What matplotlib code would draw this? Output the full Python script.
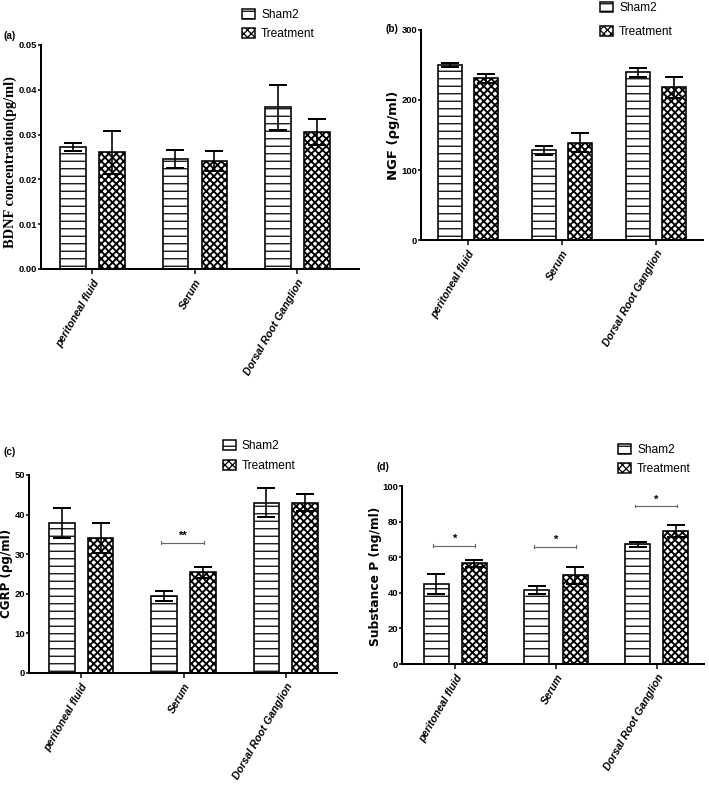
import numpy as np
import matplotlib
matplotlib.use("Agg")
import matplotlib.pyplot as plt
from matplotlib.patches import Patch

plt.rcParams['hatch.linewidth'] = 1.0

groups = ['peritoneal fluid', 'Serum', 'Dorsal Root Ganglion']
series = ['Sham2', 'Treatment']

# (a) BDNF
bdnf_sham = [0.0273, 0.0246, 0.0361]
bdnf_sham_err = [0.0009, 0.0020, 0.0050]
bdnf_treat = [0.0261, 0.0241, 0.0305]
bdnf_treat_err = [0.0048, 0.0022, 0.0029]

# (b) NGF
ngf_sham = [250, 128, 239.5]
ngf_sham_err = [3.5, 6, 6]
ngf_treat = [231, 139, 218.5]
ngf_treat_err = [6.5, 14, 15]

# (c) CGRP
cgrp_sham = [37.9, 19.5, 43.0]
cgrp_sham_err = [3.8, 1.2, 3.6]
cgrp_treat = [34.1, 25.4, 43.0]
cgrp_treat_err = [3.8, 1.3, 2.1]

# (d) Substance P
sp_sham = [44.9, 41.7, 67.3]
sp_sham_err = [5.6, 2.2, 1.5]
sp_treat = [56.6, 49.9, 74.6]
sp_treat_err = [1.9, 4.7, 3.3]

# significance marks: (group index, line y, label)
cgrp_sig = [(1, 32.9, '**')]
sp_sig = [(0, 66.5, '*'), (1, 66.0, '*'), (2, 88.8, '*')]

W, H, DPI = 709, 803, 90
fig = plt.figure(figsize=(W / DPI, H / DPI), dpi=DPI)

def px_axes(l, t, r, b):
    return fig.add_axes([l / W, 1 - b / H, (r - l) / W, (b - t) / H])

SANS = ['Liberation Sans', 'DejaVu Sans']
WIDE = ['DejaVu Sans']
SERIF = ['Liberation Serif', 'DejaVu Serif']
CHECK = 'xxxx'

def thick_hatch(patches):
    for p in patches:
        if hasattr(p, 'set_hatch_linewidth'):
            p.set_hatch_linewidth(1.5)

def panel(ax, sham, sham_err, treat, treat_err, yticks, fmt, xlim):
    x = np.arange(len(groups))
    off, bw = 0.19, 0.25
    ax.bar(x - off, sham, bw, facecolor='white', edgecolor='black',
           hatch='--', linewidth=1.3, zorder=2)
    tb = ax.bar(x + off, treat, bw, facecolor='white', edgecolor='black',
                hatch=CHECK, linewidth=1.3, zorder=2)
    thick_hatch(tb)
    ax.errorbar(x - off, sham, yerr=sham_err, fmt='none', ecolor='black',
                elinewidth=1.3, capsize=7, capthick=1.6, zorder=3)
    ax.errorbar(x + off, treat, yerr=treat_err, fmt='none', ecolor='black',
                elinewidth=1.3, capsize=7, capthick=1.6, zorder=3)
    ax.set_xlim(*xlim)
    ax.set_ylim(yticks[0], yticks[-1])
    ax.set_yticks(yticks)
    ax.set_yticklabels([fmt.format(v) for v in yticks], family=SANS,
                       fontsize=7.5, fontweight='bold')
    ax.set_xticks(x)
    ax.set_xticklabels(groups, rotation=60, ha='right', rotation_mode='anchor',
                       family=SANS, fontsize=8.5, fontweight='bold', style='italic')
    for s in ['top', 'right']:
        ax.spines[s].set_visible(False)
    for s in ['left', 'bottom']:
        ax.spines[s].set_linewidth(1.6)
    ax.tick_params(axis='y', length=2.5, width=1.2, pad=0.5)
    ax.tick_params(axis='x', length=4, width=1.2, pad=3)

def legend(ax, x, y, sp=0.55):
    sham_h = Patch(facecolor='white', edgecolor='black', hatch='--', linewidth=1.2)
    tr_h = Patch(facecolor='white', edgecolor='black', hatch=CHECK, linewidth=1.2)
    thick_hatch([tr_h])
    ax.legend([sham_h, tr_h], series, loc='upper left',
              bbox_to_anchor=(x / W, 1 - y / H),
              bbox_transform=fig.transFigure, frameon=False,
              prop={'family': SANS, 'size': 9.5}, handlelength=1.1,
              handleheight=0.9, handletextpad=0.5, labelspacing=sp,
              borderaxespad=0, borderpad=0)

def sig(ax, items, tick):
    for g, yv, lab in items:
        ax.plot([g - 0.22, g + 0.2], [yv, yv], color='#666666', lw=0.9, zorder=4)
        ax.plot([g - 0.22, g - 0.22], [yv - tick, yv + tick], color='#666666', lw=0.9)
        ax.plot([g + 0.2, g + 0.2], [yv - tick, yv + tick], color='#666666', lw=0.9)
        ax.text(g - 0.01, yv + tick, lab, ha='center', va='bottom', family=SANS,
                fontsize=9, fontweight='bold')

ax_a = px_axes(41, 45, 359, 269)
panel(ax_a, bdnf_sham, bdnf_sham_err, bdnf_treat, bdnf_treat_err,
      [0.0, 0.01, 0.02, 0.03, 0.04, 0.05], '{:.2f}', (-0.5, 2.6))
legend(ax_a, 242, 9, sp=0.6)

ax_b = px_axes(421, 30, 703, 240)
panel(ax_b, ngf_sham, ngf_sham_err, ngf_treat, ngf_treat_err,
      [0, 100, 200, 300], '{:d}', (-0.5, 2.5))
legend(ax_b, 600, 2, sp=1.0)

ax_c = px_axes(29, 475, 337, 673)
panel(ax_c, cgrp_sham, cgrp_sham_err, cgrp_treat, cgrp_treat_err,
      [0, 10, 20, 30, 40, 50], '{:d}', (-0.51, 2.5))
legend(ax_c, 223, 440, sp=0.65)
sig(ax_c, cgrp_sig, 0.4)

ax_d = px_axes(402, 486, 704, 664)
panel(ax_d, sp_sham, sp_sham_err, sp_treat, sp_treat_err,
      [0, 20, 40, 60, 80, 100], '{:d}', (-0.53, 2.47))
legend(ax_d, 618, 444, sp=0.6)
sig(ax_d, sp_sig, 0.8)

# y labels
fig.text(10.5 / W, 1 - 162 / H, 'BDNF concentration(pg/ml)', rotation=90,
         ha='center', va='center', family=SERIF, fontsize=11.5, fontweight='bold')
fig.text(393 / W, 1 - 135 / H, 'NGF (ρg/ml)', rotation=90,
         ha='center', va='center', family=WIDE, fontsize=10.5, fontweight='bold')
fig.text(7 / W, 1 - 573 / H, 'CGRP (ρg/ml)', rotation=90,
         ha='center', va='center', family=WIDE, fontsize=9.5, fontweight='bold')
fig.text(375.5 / W, 1 - 576 / H, 'Substance P (ng/ml)', rotation=90,
         ha='center', va='center', family=WIDE, fontsize=9.8, fontweight='bold')

# panel letters
for lab, lx, ly in [('(a)', 4, 36), ('(b)', 385, 29), ('(c)', 4, 452), ('(d)', 377, 467)]:
    fig.text(lx / W, 1 - ly / H, lab, ha='left', va='center', family=SANS,
             fontsize=8, fontweight='bold')

fig.savefig('out.png', dpi=DPI)
